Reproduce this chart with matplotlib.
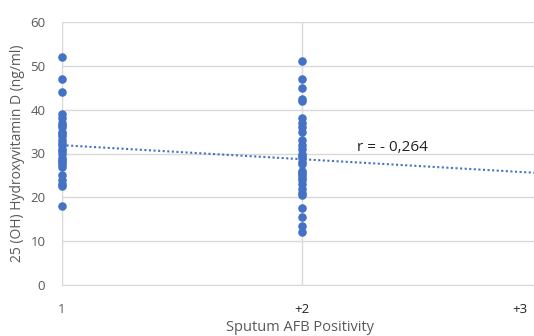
import matplotlib
matplotlib.use("Agg")
import matplotlib.pyplot as plt
import numpy as np

plt.rcParams['font.family'] = ['Open Sans', 'DejaVu Sans']

group1_x = 1
group1_vals = [52, 47, 44, 39, 38, 37, 36.5, 36, 35, 34.5, 34, 33, 32.5, 32, 31,
               30.5, 30, 29, 28.5, 28, 27.5, 27, 25, 24, 23, 22.5, 18]
group2_x = 2
group2_vals = [51, 47, 45, 42.5, 42, 38, 37, 36, 35, 33, 32, 31, 30, 29.5, 29, 28,
               27.5, 26, 25.5, 25, 24.5, 24, 23, 22, 21, 20.5, 17.5, 15.5, 13.5, 12]
# trendline as shown in the chart (value at x=1 and slope per category step)
trend_at_1 = 31.9
trend_slope = -3.2
xtick_vals = [1, 2, 3]
xtick_labels = ['1', '+2', '+3']
yticks = [0, 10, 20, 30, 40, 50, 60]
r_text = "r = - 0,264"

xs = np.array([group1_x] * len(group1_vals) + [group2_x] * len(group2_vals), dtype=float)
ys = np.array(group1_vals + group2_vals, dtype=float)

fig = plt.figure(figsize=(5.34, 3.36), dpi=100)
ax = fig.add_axes([62/534, 1 - 285/336, (534 - 62)/534, (285 - 22)/336])

grid_c = '#d9d9d9'
text_c = '#595959'
blue = '#4472C4'

xmax = 1 + (534 - 62) / 240
ax.set_xlim(1, xmax)
ax.set_ylim(0, 60)
ax.set_yticks(yticks)
ax.set_xticks([1, 2])
ax.set_xticklabels(['', ''])
ax.grid(True, color=grid_c, linewidth=1)
ax.set_axisbelow(True)
for s in ['top', 'right']:
    ax.spines[s].set_visible(False)
for s in ['left', 'bottom']:
    ax.spines[s].set_color(grid_c)
ax.tick_params(length=0, colors=text_c, labelsize=9.5)
ax.tick_params(axis='y', pad=12)

# x tick labels placed manually (Excel shifts last one inward)
for xv, lab in zip(xtick_vals, xtick_labels):
    xx = min(xv, 1 + (520 - 62) / 240)
    ax.text(xx, -5.5, lab, ha='center', va='center', fontsize=9.5,
            color='#222222' if lab != '1' else text_c, clip_on=False)

ax.scatter(xs, ys, s=38, color=blue, zorder=3, linewidths=0, clip_on=False)

# trend line
xl = np.array([1, 3])
ax.plot(xl, trend_at_1 + trend_slope * (xl - 1), linestyle=(0, (1, 1.2)),
        color=blue, linewidth=1.5, zorder=2)

ax.text(2.23, 31.3, r_text, fontsize=11, color='#222222', va='center', ha='left')

ax.set_ylabel('25 (OH) Hydroxyvitamin D (ng/ml)', fontsize=10, color=text_c, labelpad=4)
fig.text(300/534, 1 - 335/336, 'Sputum AFB Positivity', ha='center', va='bottom',
         fontsize=10.5, color=text_c)

fig.savefig('out.png', dpi=100)
